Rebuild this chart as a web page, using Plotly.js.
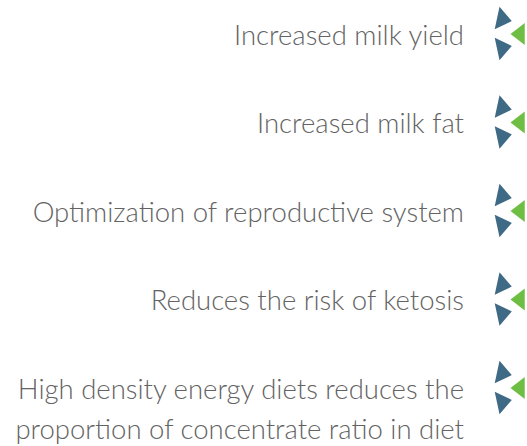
<!DOCTYPE html>
<html>
<head>
<meta charset="utf-8">
<script src="https://cdn.plot.ly/plotly-3.0.1.min.js"></script>
<style>html,body{margin:0;padding:0;background:#fff;}</style>
</head>
<body>
<div id="chart" style="width:527px;height:446px;"></div>
<script>
// Data
var benefits = [
  "Increased milk yield",
  "Increased milk fat",
  "Optimization of reproductive system",
  "Reduces the risk of ketosis",
  "High density energy diets reduces the\nproportion of concentrate ratio in diet"
];
var itemIndex = [0, 1, 2, 3, 4];

// Styling / layout constants
var textColor = "#636363";
var blue = "#3e6a85";
var green = "#6fbe44";
var fontFamily = "Lato, 'Open Sans', sans-serif";
var fontSize = 27.5;
var itemPx = 88.5;
var lineGap = 40 / itemPx;      // second-line offset, item units
var textShift = 4 / itemPx;     // text baseline tweak, item units

var tx = [], ty = [], tt = [];
benefits.forEach(function (label, i) {
  label.split("\n").forEach(function (ln, k) {
    tx.push(464);
    ty.push(itemIndex[i] + textShift + k * lineGap);
    tt.push(ln);
  });
});

var iconX = itemIndex.map(function(){ return 502; });
var iconXg = itemIndex.map(function(){ return 520; });

var traces = [
  {
    type: "scatter", mode: "text", x: tx, y: ty, text: tt,
    textposition: "middle left",
    textfont: {family: fontFamily, size: fontSize, color: textColor, weight: 300},
    hoverinfo: "skip", showlegend: false
  },
  {
    type: "scatter", mode: "markers", x: iconX,
    y: itemIndex.map(function(v){ return v - 15 / itemPx; }),
    marker: {symbol: "triangle-right", size: 20, color: blue, angle: 12, line: {width: 0}},
    hoverinfo: "skip", showlegend: false
  },
  {
    type: "scatter", mode: "markers", x: iconX,
    y: itemIndex.map(function(v){ return v + 14 / itemPx; }),
    marker: {symbol: "triangle-right", size: 20, color: blue, angle: -12, line: {width: 0}},
    hoverinfo: "skip", showlegend: false
  },
  {
    type: "scatter", mode: "markers", x: iconXg, y: itemIndex,
    marker: {symbol: "triangle-left", size: 19, color: green, line: {width: 0}},
    hoverinfo: "skip", showlegend: false
  }
];

var layout = {
  width: 527, height: 446,
  margin: {l: 0, r: 0, t: 0, b: 0},
  paper_bgcolor: "#ffffff", plot_bgcolor: "#ffffff",
  xaxis: {range: [0, 527], visible: false, fixedrange: true},
  yaxis: {range: [(446 - 34) / itemPx, -34 / itemPx], visible: false, fixedrange: true},
  showlegend: false
};

Plotly.newPlot("chart", traces, layout, {staticPlot: true, displayModeBar: false});
</script>
</body>
</html>
